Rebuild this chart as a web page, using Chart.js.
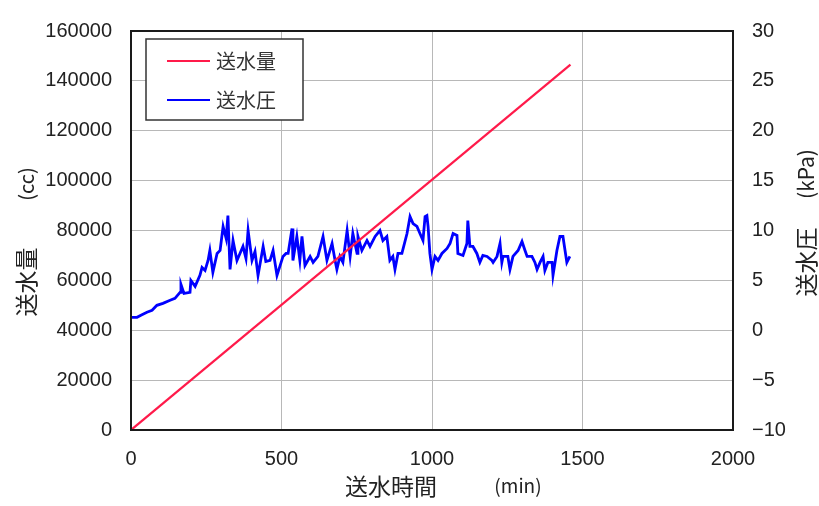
<!DOCTYPE html>
<html>
<head>
<meta charset="utf-8">
<script src="https://cdn.jsdelivr.net/npm/chart.js@4.4.1/dist/chart.umd.min.js"></script>
<style>
  html, body { margin: 0; padding: 0; background: #fff; }
  canvas { display: block; }
</style>
</head>
<body>
<canvas id="chart" width="819" height="506"></canvas>
<script>
// 送水量 (cc) — straight line
const volumeTime = [0, 1460];
const volumeCC = [0, 146500];

// 送水圧 (kPa)
const pressureTime = [
  0, 20, 33, 53, 70, 86, 106, 130, 146, 163,
  166, 176, 196, 199, 213, 229, 236, 246, 256, 262,
  272, 286, 296, 306, 316, 322, 329, 339, 352, 362,
  372, 382, 389, 402, 412, 422, 439, 448, 462, 472,
  485, 505, 515, 522, 535, 538, 551, 561, 568, 578,
  595, 605, 621, 638, 651, 668, 678, 684, 694, 704,
  718, 728, 737, 751, 754, 767, 784, 794, 811, 827,
  837, 850, 860, 870, 877, 887, 900, 917, 927, 937,
  950, 960, 970, 977, 983, 987, 993, 1000, 1010, 1020,
  1033, 1050, 1060, 1070, 1083, 1086, 1103, 1116, 1119, 1126,
  1136, 1149, 1159, 1169, 1183, 1199, 1203, 1216, 1226, 1232,
  1236, 1252, 1259, 1269, 1286, 1299, 1309, 1316, 1332, 1342,
  1349, 1359, 1369, 1375, 1385, 1399, 1402, 1415, 1425, 1435,
  1448, 1458
];
const pressureKPa = [
  1.3, 1.3, 1.5, 1.8, 2.0, 2.5, 2.7, 3.0, 3.2, 3.8,
  4.6, 3.7, 3.8, 5.0, 4.4, 5.5, 6.3, 6.0, 7.0, 8.0,
  5.8, 7.7, 8.0, 10.4, 9.2, 11.5, 6.1, 9.0, 7.0, 7.7,
  8.4, 7.2, 10.0, 7.0, 7.9, 5.5, 8.4, 6.9, 7.0, 8.0,
  5.5, 7.4, 7.7, 7.7, 10.2, 7.0, 9.4, 7.0, 9.4, 6.5,
  7.4, 6.8, 7.4, 9.4, 7.0, 8.7, 7.0, 6.1, 7.4, 6.8,
  10.0, 7.4, 9.7, 7.7, 9.4, 8.0, 9.0, 8.4, 9.4, 10.0,
  9.0, 9.4, 7.0, 7.4, 6.1, 7.7, 7.7, 9.7, 11.4, 10.7,
  10.4, 9.7, 9.0, 11.4, 11.5, 10.4, 7.7, 6.1, 7.4, 7.0,
  7.7, 8.2, 8.7, 9.7, 9.5, 7.7, 7.5, 8.7, 11.0, 8.4,
  8.4, 7.7, 6.8, 7.5, 7.4, 7.0, 6.8, 7.4, 8.7, 6.8,
  7.4, 7.4, 6.1, 7.4, 8.0, 8.9, 8.0, 7.4, 7.4, 6.8,
  6.1, 6.8, 7.4, 6.0, 6.8, 6.8, 5.5, 8.0, 9.4, 9.4,
  6.8, 7.4
];

const xTicks = { min: 0, max: 2000, step: 500 };
const yLeftTicks = { min: 0, max: 160000, step: 20000 };
const yRightTicks = { min: -10, max: 30, step: 5 };

const NUM_FONT = 'Liberation Sans, Arial, sans-serif';
const JP_FONT = '"Noto Sans CJK JP", sans-serif';
const TEXT = '#222';
const GRID = '#b8b8b8';

const toPoints = (xs, ys) => xs.map((x, i) => ({ x, y: ys[i] }));
// plain numbers, no thousands separator; real minus sign
const plainTick = v => String(v).replace('-', '\u2212');

function rotatedText(ctx, text, x, y, font) {
  ctx.save();
  ctx.translate(x, y);
  ctx.rotate(-Math.PI / 2);
  ctx.font = font;
  ctx.textAlign = 'center';
  ctx.textBaseline = 'middle';
  ctx.fillText(text, 0, 0);
  ctx.restore();
}

// Frame, boxed legend and axis titles — drawn by hand to match the original layout
const decorPlugin = {
  id: 'decor',
  afterDraw(chart) {
    const { ctx, chartArea: a } = chart;
    ctx.save();
    ctx.strokeStyle = '#1a1a1a';
    ctx.lineWidth = 2;
    ctx.strokeRect(a.left, a.top, a.right - a.left, a.bottom - a.top);

    // legend box
    ctx.fillStyle = '#fff';
    ctx.fillRect(146, 39, 157, 81);
    ctx.lineWidth = 1.5;
    ctx.strokeStyle = '#333';
    ctx.strokeRect(146, 39, 157, 81);
    chart.data.datasets.forEach((ds, i) => {
      const y = 61 + i * 39;
      ctx.strokeStyle = ds.borderColor;
      ctx.lineWidth = 2;
      ctx.beginPath();
      ctx.moveTo(167, y);
      ctx.lineTo(210, y);
      ctx.stroke();
      ctx.fillStyle = '#333';
      ctx.font = '20px ' + JP_FONT;
      ctx.textAlign = 'left';
      ctx.textBaseline = 'middle';
      ctx.fillText(ds.label, 216, y);
    });

    // axis titles
    ctx.fillStyle = TEXT;
    ctx.textAlign = 'center';
    ctx.textBaseline = 'middle';
    ctx.font = '23px ' + JP_FONT;
    ctx.fillText('送水時間', 391, 486);
    ctx.font = '19px ' + JP_FONT;
    ctx.fillText('(min)', 518, 486);

    rotatedText(ctx, '送水量', 26, 282, '23px ' + JP_FONT);
    rotatedText(ctx, '(cc)', 26, 184, '20px ' + JP_FONT);
    rotatedText(ctx, '送水圧', 806, 262, '23px ' + JP_FONT);
    rotatedText(ctx, '(kPa)', 806, 174, '21px ' + JP_FONT);
    ctx.restore();
  }
};

new Chart(document.getElementById('chart'), {
  type: 'line',
  data: {
    datasets: [
      {
        label: '送水量',
        data: toPoints(volumeTime, volumeCC),
        yAxisID: 'y',
        borderColor: '#ff1a4a',
        borderWidth: 2.2,
        pointRadius: 0,
        tension: 0
      },
      {
        label: '送水圧',
        data: toPoints(pressureTime, pressureKPa),
        yAxisID: 'y2',
        borderColor: '#0000ff',
        borderWidth: 2.8,
        pointRadius: 0,
        tension: 0
      }
    ]
  },
  options: {
    responsive: false,
    animation: false,
    layout: { padding: { top: 24, left: 0, right: 0, bottom: 0 } },
    plugins: {
      legend: { display: false },
      tooltip: { enabled: false }
    },
    scales: {
      x: {
        type: 'linear',
        min: xTicks.min, max: xTicks.max,
        ticks: { stepSize: xTicks.step, color: TEXT, font: { family: NUM_FONT, size: 20 }, padding: 17, maxRotation: 0, callback: plainTick },
        grid: { color: GRID, drawTicks: false },
        border: { display: false },
        afterFit: s => { s.height = 76; }
      },
      y: {
        position: 'left',
        min: yLeftTicks.min, max: yLeftTicks.max,
        ticks: { stepSize: yLeftTicks.step, color: TEXT, font: { family: NUM_FONT, size: 20 }, padding: 19, callback: plainTick },
        grid: { color: GRID, drawTicks: false },
        border: { display: false },
        afterFit: s => { s.width = 131; }
      },
      y2: {
        position: 'right',
        min: yRightTicks.min, max: yRightTicks.max,
        ticks: { stepSize: yRightTicks.step, color: TEXT, font: { family: NUM_FONT, size: 20 }, padding: 19, callback: plainTick },
        grid: { display: false, drawTicks: false },
        border: { display: false },
        afterFit: s => { s.width = 86; }
      }
    }
  },
  plugins: [decorPlugin]
});
</script>
</body>
</html>
